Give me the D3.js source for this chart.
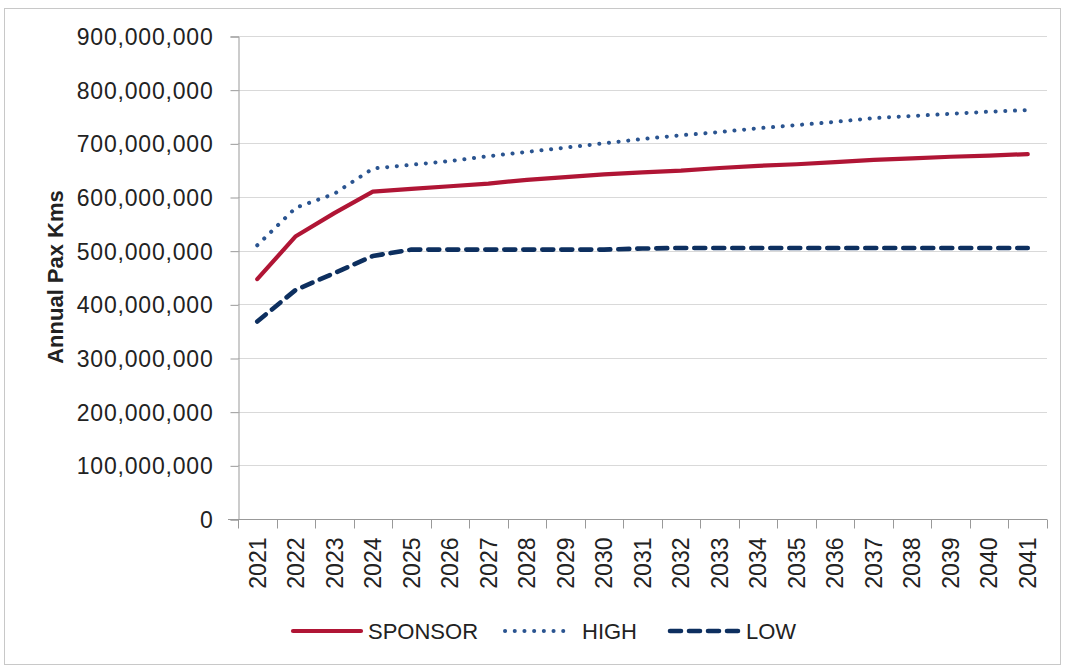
<!DOCTYPE html>
<html>
<head>
<meta charset="utf-8">
<script src="https://cdn.jsdelivr.net/npm/d3@7"></script>
<style>
  body { margin: 0; background: #fff; }
  svg { display: block; }
  text { font-family: "Liberation Sans", Arial, sans-serif; fill: #222; }
</style>
</head>
<body>
<svg id="chart" width="1065" height="669"></svg>
<script>
const years = ["2021","2022","2023","2024","2025","2026","2027","2028","2029","2030","2031","2032","2033","2034","2035","2036","2037","2038","2039","2040","2041"];
const sponsor = [447e6,527e6,570e6,610e6,615e6,620e6,625e6,632e6,637e6,642e6,646e6,649e6,654e6,658e6,661e6,665e6,669e6,672e6,675e6,677e6,680e6];
const high = [510e6,580e6,606e6,653e6,660e6,667e6,676e6,684e6,692e6,700e6,708e6,715e6,721e6,728e6,734e6,740e6,747e6,751e6,755e6,759e6,762e6];
const low = [368e6,427e6,458e6,490e6,502e6,502e6,502e6,502e6,502e6,502e6,504e6,505e6,505e6,505e6,505e6,505e6,505e6,505e6,505e6,505e6,505e6];
const yTicks = [0,100e6,200e6,300e6,400e6,500e6,600e6,700e6,800e6,900e6];
const seriesNames = ["SPONSOR","HIGH","LOW"];

const svg = d3.select("#chart");
const W = 1065, H = 669;
const m = {left: 238, right: 1047, top: 36, bottom: 519};

svg.append("rect").attr("x",4.5).attr("y",8.5).attr("width",1056).attr("height",656)
  .attr("fill","#fff").attr("stroke","#c8c8c8").attr("stroke-width",1);

const x = d3.scaleBand().domain(years).range([m.left, m.right]);
const y = d3.scaleLinear().domain([0, 900e6]).range([m.bottom, m.top]);

// gridlines
svg.append("g").selectAll("line").data(yTicks.filter(d=>d>0)).join("line")
  .attr("x1", m.left).attr("x2", m.right)
  .attr("y1", d=>Math.round(y(d))+0.5).attr("y2", d=>Math.round(y(d))+0.5)
  .attr("stroke","#d9d9d9").attr("stroke-width",1);

// y axis
const yAxis = d3.axisLeft(y).tickValues(yTicks).tickSize(8).tickPadding(17)
  .tickFormat(d => d===0 ? "0" : d3.format(",")(d));
const gy = svg.append("g").attr("transform",`translate(${m.left+0.5},0.5)`).call(yAxis);
gy.select(".domain").attr("stroke","#999");
gy.selectAll(".tick line").attr("stroke","#999");
gy.selectAll(".tick text").attr("font-size",23).attr("fill","#222")
  .attr("letter-spacing","0.8px")
  .attr("font-family","Liberation Sans, Arial, sans-serif").attr("dy","0.35em");

// x axis
const xAxis = d3.axisBottom(x).tickSize(0).tickPadding(0);
const gx = svg.append("g").attr("transform",`translate(0,${m.bottom+0.5})`).call(xAxis);
gx.select(".domain").attr("stroke","#999").attr("d", `M${m.left-10},0H${m.right}`);
gx.selectAll(".tick text").attr("font-size",23).attr("fill","#222")
  .attr("font-family","Liberation Sans, Arial, sans-serif")
  .attr("transform","rotate(-90)").attr("text-anchor","end")
  .attr("x",-18).attr("y",0).attr("dy","0.36em");
// boundary ticks
const bounds = years.map(d => x(d)).concat([x(years[years.length-1]) + x.bandwidth()]);
gx.append("g").selectAll("line").data(bounds).join("line")
  .attr("x1", d=>Math.round(d)+0.5).attr("x2", d=>Math.round(d)+0.5)
  .attr("y1",0).attr("y2",9).attr("stroke","#999");

// y title
svg.append("text").attr("transform","translate(63,277) rotate(-90)")
  .attr("text-anchor","middle").attr("font-size",22).attr("font-weight","bold")
  .attr("fill","#111").text("Annual Pax Kms");

const cx = d => x(d) + x.bandwidth()/2;
const line = d3.line().x((d,i)=>cx(years[i])).y(d=>y(d));

const styles = {
  SPONSOR: {color:"#B01535", width:4.2, dash:null, cap:"round"},
  HIGH: {color:"#2A5490", width:4, dash:"0.1 9.6", cap:"round"},
  LOW: {color:"#0D2F5F", width:4.6, dash:"11 8", cap:"round"}
};
const dataMap = {SPONSOR: sponsor, HIGH: high, LOW: low};

["LOW","HIGH","SPONSOR"].forEach(name => {
  const s = styles[name];
  svg.append("path").datum(dataMap[name]).attr("d", line)
    .attr("fill","none").attr("stroke",s.color).attr("stroke-width",s.width)
    .attr("stroke-linecap",s.cap).attr("stroke-linejoin","round")
    .attr("stroke-dasharray", s.dash);
});

// legend
const legend = [
  {name:"SPONSOR", x1:293, x2:361, tx:368},
  {name:"HIGH", x1:505, x2:569, tx:582},
  {name:"LOW", x1:670, x2:739, tx:746}
];
const ly = 631;
legend.forEach(l => {
  const s = styles[l.name];
  svg.append("line").attr("x1",l.x1).attr("x2",l.x2).attr("y1",ly).attr("y2",ly)
    .attr("stroke",s.color).attr("stroke-width",s.width)
    .attr("stroke-linecap",s.cap).attr("stroke-dasharray", s.dash);
  svg.append("text").attr("x",l.tx).attr("y",ly).attr("dy","0.36em")
    .attr("font-size",22).attr("fill","#222").text(l.name);
});
</script>
</body>
</html>
